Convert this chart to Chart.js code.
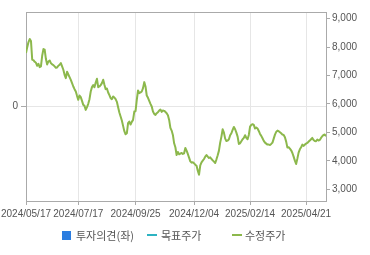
<!DOCTYPE html>
<html><head><meta charset="utf-8">
<script src="https://cdn.jsdelivr.net/npm/chart.js@4/dist/chart.umd.min.js"></script>
<style>
html,body{margin:0;padding:0;background:#fff;}
#wrap{position:relative;width:370px;height:255px;}
canvas{position:absolute;left:0;top:0;}
.lg{position:absolute;font-family:"Noto Sans CJK KR","Noto Sans",sans-serif;font-size:11px;color:#555;line-height:14px;white-space:nowrap;}
.sw{position:absolute;}
</style></head>
<body><div id="wrap"><canvas id="c" width="370" height="255"></canvas>
<div class="sw" style="left:62px;top:231px;width:9px;height:9px;background:#2b7de0;"></div>
<div class="lg" style="left:76px;top:228px;">투자의견(좌)</div>
<div class="sw" style="left:147px;top:234px;width:10px;height:2px;background:#2db3c2;"></div>
<div class="lg" style="left:161px;top:228px;">목표주가</div>
<div class="sw" style="left:232px;top:234px;width:10px;height:2px;background:#8cb84c;"></div>
<div class="lg" style="left:245px;top:228px;">수정주가</div>
</div>
<script>
// 수정주가 (adjusted price), one value per trading day from 2024/05/17
const adjPrice = [7790,8000,8180,8285,8215,7556,7544,7485,7450,7345,
7415,7298,7321,7697,7932,7909,7580,7392,7497,7532,
7439,7392,7368,7321,7274,7286,7345,7380,7439,7321,
7204,7027,6910,7133,7039,6945,6851,6734,6616,6522,
6440,6287,6146,6299,6240,6111,5970,5934,5794,5888,
6005,6170,6440,6593,6663,6593,6757,6886,6593,6616,
6663,6734,6851,6675,6522,6546,6405,6311,6205,6170,
6264,6229,6170,6076,5888,5700,5559,5418,5230,5042,
4936,4971,5324,5383,5277,5371,5441,5735,5747,6146,
6475,6381,6405,6440,6558,6769,6616,6299,6217,6111,
6005,5911,5735,5653,5617,5676,5712,5770,5806,5723,
5770,5759,5723,5676,5606,5441,5159,5065,4912,4618,
4478,4207,4313,4231,4254,4278,4243,4266,4454,4360,
4243,4113,3984,3937,3949,3913,3866,3831,3655,3514,
3843,3949,4007,4066,4148,4207,4148,4101,4125,4066,
4019,3972,3925,4054,4195,4360,4642,4854,5112,4994,
4783,4701,4713,4760,4901,4971,5089,5194,5112,4994,
4854,4595,4619,4689,4760,4807,4901,4807,4760,4912,
5206,5265,5288,5265,5136,5171,5136,5053,4948,4878,
4795,4701,4642,4607,4572,4572,4560,4595,4642,4783,
4924,5018,5065,5042,5006,4971,4924,4912,4830,4677,
4466,4478,4431,4372,4278,4148,4007,3890,4078,4289,
4407,4478,4572,4525,4572,4607,4630,4677,4713,4760,
4807,4736,4701,4689,4748,4713,4736,4807,4866,4912,
4924,4866];
const investOpinion = [];   // 투자의견(좌) – no entries
const targetPrice = [];     // 목표주가 – no entries
const dateLabels = ['2024/05/17','2024/07/17','2024/09/25','2024/12/04','2025/02/14','2025/04/21'];
const dateIndex = [0,42,88,135,180,225];   // trading-day index of each date label
const priceTicks = [3000,4000,5000,6000,7000,8000,9000];
const opinionTicks = [0];

const TXT='#555', GRID='#e6e6e6', AX='#aaaaaa';
const font={family:'"Liberation Sans", Arial, sans-serif',size:10};

const boxPlugin={id:'box',afterDraw(ch){const a=ch.chartArea,c=ch.ctx;c.save();c.strokeStyle=AX;c.lineWidth=1;
c.beginPath();c.moveTo(a.left,Math.round(a.top)+0.5);c.lineTo(a.right,Math.round(a.top)+0.5);c.stroke();c.restore();}};

new Chart(document.getElementById('c'),{
 type:'line',
 data:{datasets:[
  {label:'투자의견(좌)',type:'bar',data:investOpinion,backgroundColor:'#2b7de0',yAxisID:'yL'},
  {label:'목표주가',data:targetPrice,borderColor:'#2db3c2',yAxisID:'yR',pointRadius:0},
  {label:'수정주가',data:adjPrice.map((v,i)=>({x:i,y:v})),borderColor:'#8cb84c',borderWidth:2,pointRadius:0,tension:0,yAxisID:'yR',borderJoinStyle:'round'}
 ]},
 options:{
  responsive:false,animation:false,
  layout:{padding:{top:12,left:0,right:0,bottom:0}},
  plugins:{legend:{display:false},tooltip:{enabled:false}},
  scales:{
   x:{type:'linear',min:0,max:adjPrice.length-1,offset:false,
      afterBuildTicks:s=>{s.ticks=dateIndex.map(v=>({value:v}));},
      afterFit:s=>{s.height=54;s.paddingLeft=0;s.paddingRight=0;},
      ticks:{autoSkip:false,maxRotation:0,minRotation:0,color:TXT,font,padding:3,
             callback:v=>dateLabels[dateIndex.indexOf(v)]},
      grid:{color:GRID,tickColor:AX,tickLength:4,offset:false},border:{color:AX}},
   yL:{position:'left',min:-1,max:1,
      afterBuildTicks:s=>{s.ticks=opinionTicks.map(v=>({value:v}));},
      afterFit:s=>{s.width=26;s.paddingTop=0;s.paddingBottom=0;},
      ticks:{color:TXT,font,padding:3},
      grid:{color:GRID,tickColor:AX,tickLength:5},border:{color:AX}},
   yR:{position:'right',min:2588,max:9236,
      afterBuildTicks:s=>{s.ticks=priceTicks.map(v=>({value:v}));},
      afterFit:s=>{s.width=44;s.paddingTop=0;s.paddingBottom=0;},
      ticks:{color:TXT,font,padding:2,callback:v=>v.toLocaleString('en-US')},
      grid:{drawOnChartArea:false,tickColor:AX,tickLength:4},border:{color:AX}}
  }
 },
 plugins:[boxPlugin]
});
</script></body></html>
